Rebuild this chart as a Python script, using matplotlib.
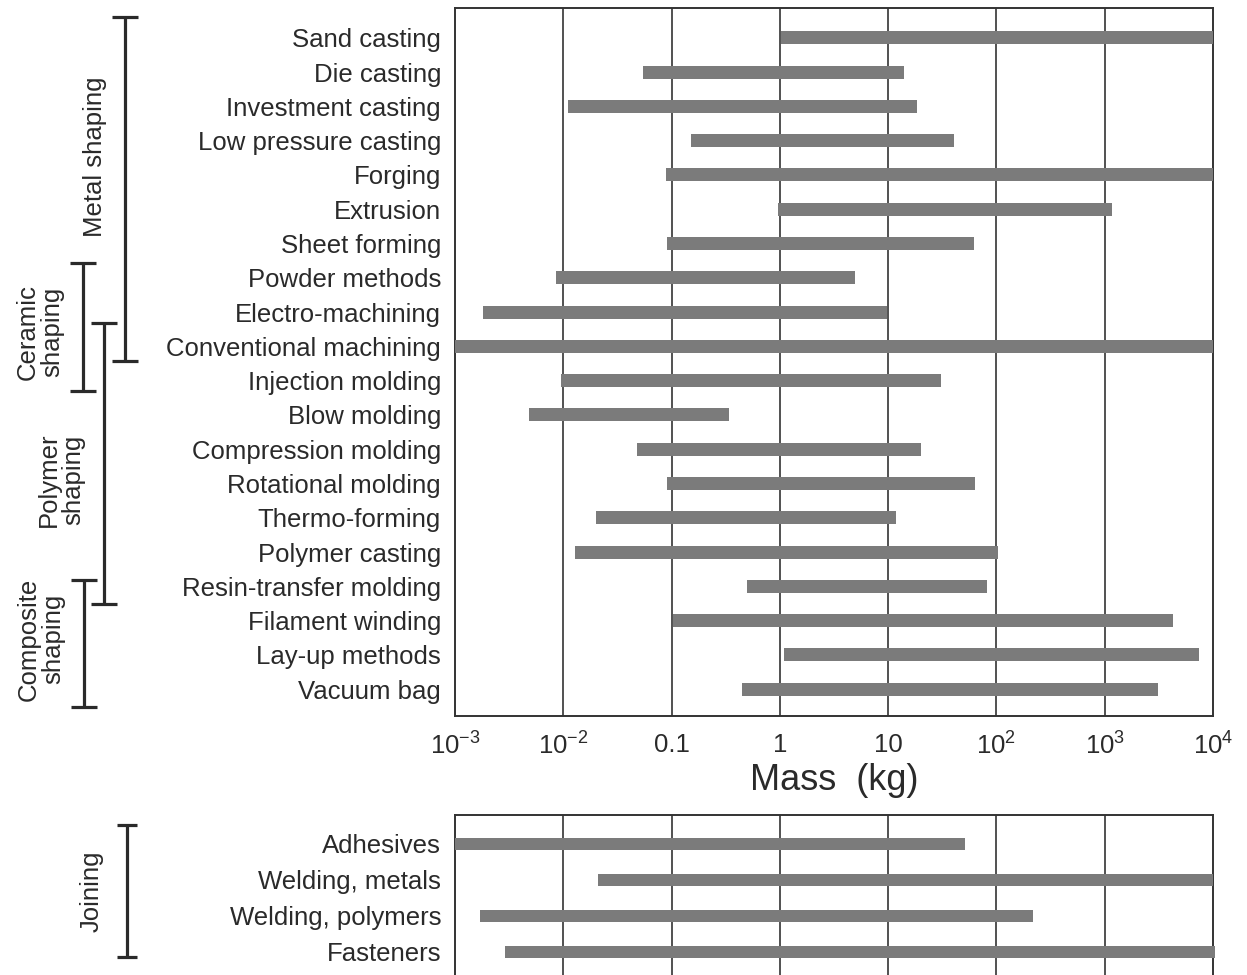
import numpy as np
import matplotlib
matplotlib.use('Agg')
import matplotlib.pyplot as plt
from matplotlib.transforms import blended_transform_factory

plt.rcParams['font.family'] = ['Liberation Sans', 'DejaVu Sans']
plt.rcParams['mathtext.fontset'] = 'custom'
plt.rcParams['mathtext.rm'] = 'Liberation Sans'

# shaping processes (top panel), mass range in kg
processes = ['Sand casting', 'Die casting', 'Investment casting', 'Low pressure casting',
             'Forging', 'Extrusion', 'Sheet forming', 'Powder methods', 'Electro-machining',
             'Conventional machining', 'Injection molding', 'Blow molding',
             'Compression molding', 'Rotational molding', 'Thermo-forming',
             'Polymer casting', 'Resin-transfer molding', 'Filament winding',
             'Lay-up methods', 'Vacuum bag']
mass_lo = [1.03, 0.054, 0.011, 0.15, 0.088, 0.97, 0.091, 0.0086, 0.0018, 0.001,
           0.0095, 0.0048, 0.048, 0.091, 0.020, 0.0128, 0.50, 0.103, 1.09, 0.45]
mass_hi = [1e4, 13.9, 18.4, 41, 1e4, 1180, 62, 4.9, 9.7, 1e4,
           31, 0.34, 20, 64, 11.9, 103, 81, 4240, 7430, 3080]

# joining processes (bottom panel)
joining = ['Adhesives', 'Welding, metals', 'Welding, polymers', 'Fasteners']
join_lo = [0.001, 0.021, 0.0017, 0.0029]
join_hi = [51, 1e4, 217, 1.05e4]

ticks = [1e-3, 1e-2, 0.1, 1, 10, 1e2, 1e3, 1e4]
tick_labels = [r'$\mathregular{10^{-3}}$', r'$\mathregular{10^{-2}}$', '0.1', '1', '10',
               r'$\mathregular{10^{2}}$', r'$\mathregular{10^{3}}$', r'$\mathregular{10^{4}}$']

# group brackets: label, row from, row to, text row
groups_top = [('Metal shaping', -0.61, 9.44, 3.47),
              ('Ceramic\nshaping', 6.56, 10.31, 8.59),
              ('Polymer\nshaping', 8.33, 16.52, 12.9),
              ('Composite\nshaping', 15.82, 19.52, 17.54)]
groups_bot = [('Joining', -0.53, 3.14, 1.31)]

bar_col = '#7b7b7b'
txt_col = '#2a2a2a'
line_col = '#2a2a2a'

W, H = 1247, 975
fig = plt.figure(figsize=(W / 100, H / 100), dpi=100)
ax = fig.add_axes([455 / W, 1 - 716 / H, 758 / W, 708 / H])
ax2 = fig.add_axes([455 / W, 1 - 988 / H, 758 / W, 173 / H])


def draw_panel(a, names, lo, hi, h):
    y = np.arange(len(names))
    a.barh(y, np.array(hi) - np.array(lo), left=lo, height=h, color=bar_col,
           zorder=3, clip_on=False)
    a.set_xscale('log')
    a.set_xlim(1e-3, 1e4)
    a.set_xticks(ticks)
    a.minorticks_off()
    a.set_yticks(y)
    a.set_yticklabels(names, fontsize=18.5, color=txt_col)
    a.tick_params(axis='both', length=0)
    a.tick_params(axis='y', pad=10)
    for t in ticks[1:-1]:
        a.axvline(t, color='#333333', lw=1.2, zorder=1)
    for s in a.spines.values():
        s.set_color('#333333')
        s.set_linewidth(1.4)


draw_panel(ax, processes, mass_lo, mass_hi, 0.38)
ax.set_ylim(19.78, -0.87)
ax.set_xticklabels(tick_labels, fontsize=18.5, color=txt_col)
ax.tick_params(axis='x', pad=12)
ax.set_xlabel('Mass  (kg)', fontsize=26, color=txt_col, labelpad=2)

draw_panel(ax2, joining, join_lo, join_hi, 0.33)
ax2.set_ylim(4.0, -0.8)
ax2.set_xticklabels([])


def bracket(a, x, cap, y0, y1):
    tr = blended_transform_factory(fig.transFigure, a.transData)
    kw = dict(color=line_col, lw=2.3, transform=tr, clip_on=False, solid_capstyle='butt')
    a.plot([x / W, x / W], [y0, y1], **kw)
    a.plot([(x - cap) / W, (x + cap) / W], [y0, y0], **kw)
    a.plot([(x - cap) / W, (x + cap) / W], [y1, y1], **kw)


def group_text(a, x, yrow, s):
    tr = blended_transform_factory(fig.transFigure, a.transData)
    a.text(x / W, yrow, s, transform=tr, rotation=90, ha='center', va='center',
           fontsize=18.5, color=txt_col, linespacing=1.0, multialignment='center')


bracket_x = [125, 83, 104, 84]
text_x = [95, 40, 61, 41]
for (name, y0, y1, yt), bx, tx in zip(groups_top, bracket_x, text_x):
    bracket(ax, bx, 13, y0, y1)
    group_text(ax, tx, yt, name)

for name, y0, y1, yt in groups_bot:
    bracket(ax2, 127, 10, y0, y1)
    group_text(ax2, 92, yt, name)

fig.savefig('out.png', dpi=100, facecolor='white')
